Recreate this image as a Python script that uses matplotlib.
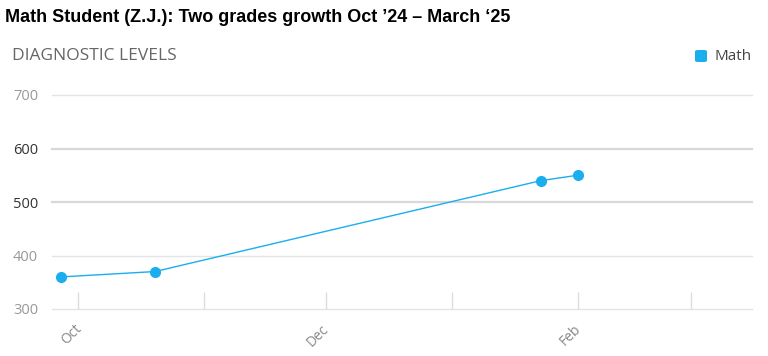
import matplotlib
matplotlib.use("Agg")
import matplotlib.pyplot as plt
import matplotlib.transforms as mtransforms
from matplotlib.patches import FancyBboxPatch
import datetime as dt

dates = ["2024-09-27", "2024-10-20", "2025-01-23", "2025-02-01"]
math_levels = [360, 370, 540, 550]
y_ticks = [300, 400, 500, 600, 700]
tick_months = ["2024-10-01", "2024-11-01", "2024-12-01", "2025-01-01", "2025-02-01", "2025-03-01"]
tick_labels = ["Oct", "", "Dec", "", "Feb", ""]

title = "Math Student (Z.J.): Two grades growth Oct \u201924 \u2013 March \u201825"
series_name = "Math"
color = "#1aaeee"

x = [dt.datetime.fromisoformat(d) for d in dates]
xt = [dt.datetime.fromisoformat(d) for d in tick_months]

fig = plt.figure(figsize=(7.68, 3.56), dpi=100)
ax = fig.add_axes([52/768, 1-309/356, (752-52)/768, (309-95)/356])

ax.plot(x, math_levels, color=color, lw=1.0, marker="o", ms=7, mec=color, mfc=color,
        zorder=3, clip_on=False)

ax.set_ylim(300, 700)
ax.set_xlim(dt.datetime(2024, 9, 24, 16), dt.datetime(2025, 3, 15, 22))
ax.set_yticks(y_ticks)
for yv in y_ticks:
    dark = yv in (500, 600)
    ax.axhline(yv, color="#d8d8d8" if dark else "#e4e4e4", lw=1.6 if dark else 1.0,
               zorder=1, clip_on=False)
ax.set_yticklabels([str(v) for v in y_ticks], fontfamily="Open Sans", fontsize=10.5)
for lbl, yv in zip(ax.get_yticklabels(), y_ticks):
    lbl.set_color("#333333" if yv in (500, 600) else "#999999")
ax.tick_params(axis="y", length=0, pad=10)

ax.set_xticks(xt)
ax.set_xticklabels(tick_labels, rotation=45, ha="right", rotation_mode="anchor",
                   fontfamily="Open Sans", fontsize=10, color="#888888")
ax.tick_params(axis="x", direction="in", length=12, color="#dddddd", width=1, pad=9)
offset = mtransforms.ScaledTranslation(-4/100, 0, fig.dpi_scale_trans)
for lbl in ax.get_xticklabels():
    lbl.set_transform(lbl.get_transform() + offset)
for s in ["top", "right", "left", "bottom"]:
    ax.spines[s].set_visible(False)

fig.text(5/768, 1-18/356, title, fontfamily="Liberation Sans", fontweight="bold",
         fontsize=13, color="black", va="center", ha="left")
fig.text(12/768, 1-56/356, "DIAGNOSTIC LEVELS", fontfamily="Open Sans", fontsize=12.5,
         color="#666666", va="center", ha="left")

box = FancyBboxPatch((695/768, 1-62/356), 12/768, 12/356,
                     boxstyle="round,pad=0,rounding_size=0.004", transform=fig.transFigure,
                     facecolor=color, edgecolor="none")
fig.patches.append(box)
fig.text(715/768, 1-56/356, series_name, fontfamily="Open Sans", fontsize=11,
         color="#444444", va="center", ha="left")

fig.savefig("out.png", dpi=100)
